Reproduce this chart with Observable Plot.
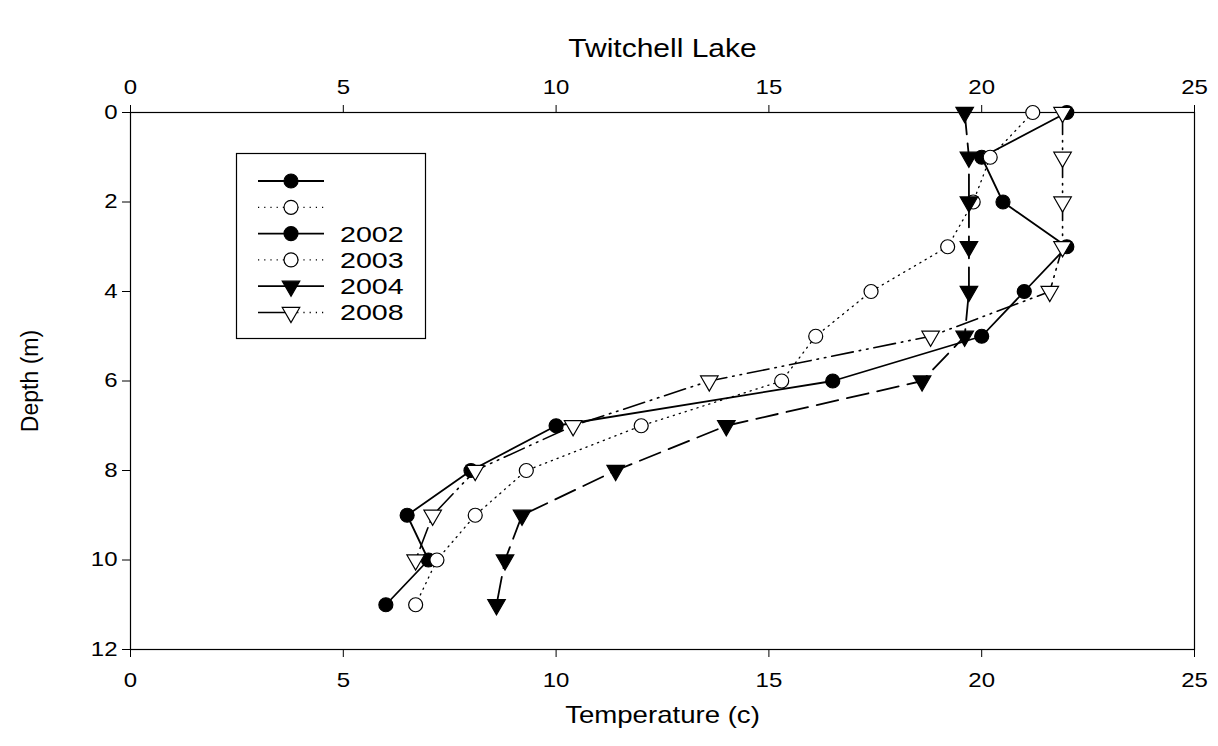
<!DOCTYPE html>
<html><head><meta charset="utf-8">
<script src="https://cdn.jsdelivr.net/npm/d3@7"></script>
<script src="https://cdn.jsdelivr.net/npm/@observablehq/plot@0.6"></script>
<style>
body{margin:0;background:#fff}
#chart{position:relative;width:1218px;height:746px}
</style>
</head><body><div id="chart"></div>
<script>
// ---- data ----
const depths = [0, 1, 2, 3, 4, 5, 6, 7, 8, 9, 10, 11];
const temp2002 = [22.0, 20.0, 20.5, 22.0, 21.0, 20.0, 16.5, 10.0, 8.0, 6.5, 7.0, 6.0];
const temp2003 = [21.2, 20.2, 19.8, 19.2, 17.4, 16.1, 15.3, 12.0, 9.3, 8.1, 7.2, 6.7];
const temp2004 = [19.6, 19.7, 19.7, 19.7, 19.7, 19.6, 18.6, 14.0, 11.4, 9.2, 8.8, 8.6];
const temp2008 = [21.9, 21.9, 21.9, 21.9, 21.6, 18.8, 13.6, 10.4, 8.1, 7.1, 6.7];
const seriesNames = ["2002", "2003", "2004", "2008"];
const legendLabels = ["", "", "2002", "2003", "2004", "2008"];
const xTicks = [0, 5, 10, 15, 20, 25];
const yTicks = [0, 2, 4, 6, 8, 10, 12];
const titleText = "Twitchell Lake";
const xLabel = "Temperature (c)";
const yLabel = "Depth (m)";

// ---- styles ----
const seriesTemps = {"2002": temp2002, "2003": temp2003, "2004": temp2004, "2008": temp2008};
const styles = {
  "2002": {dash: null, width: 1.8, symbol: "circle", fill: "black", r: 7, rotate: 0},
  "2003": {dash: "1.2,5", width: 1.3, symbol: "circle", fill: "white", r: 7, rotate: 0},
  "2004": {dash: "22,9", width: 1.8, symbol: "triangle", fill: "black", r: 6.5, rotate: 180},
  "2008": {dash: "22,6,1.5,6,1.5,6", width: 1.6, symbol: "triangle", fill: "white", r: 6.5, rotate: 180}
};
const legendStyleKeys = ["2002", "2003", "2002", "2003", "2004", "2008"];
const STRETCH = 1.2;

const font = "'Liberation Sans', Arial, sans-serif";

const rows = name => seriesTemps[name].map((t, i) => ({year: name, depth: depths[i], temp: t}));

const seriesMarks = seriesNames.flatMap(name => {
  const s = styles[name];
  const data = rows(name);
  return [
    Plot.line(data, {x: "temp", y: "depth", stroke: "black", strokeWidth: s.width,
      strokeDasharray: s.dash || undefined, curve: "linear"}),
    Plot.dot(data, {x: "temp", y: "depth", symbol: s.symbol, r: s.r, fill: s.fill,
      stroke: "black", strokeWidth: 1.2, rotate: s.rotate})
  ];
});

const chart = Plot.plot({
  width: 1218,
  height: 746,
  marginLeft: 130,
  marginRight: 24,
  marginTop: 112,
  marginBottom: 97,
  style: {fontFamily: font, fontSize: "20px", color: "black", background: "white", overflow: "visible"},
  x: {domain: [0, 25]},
  y: {domain: [0, 12], reverse: true},
  marks: [
    Plot.frame({stroke: "black", strokeWidth: 1.2}),
    Plot.axisX(xTicks, {anchor: "top", tickSize: 8, tickPadding: 11, label: null, fontSize: 20}),
    Plot.axisX(xTicks, {anchor: "bottom", tickSize: 8, tickPadding: 15, label: null, fontSize: 20}),
    Plot.axisY(yTicks, {anchor: "left", tickSize: 8, tickPadding: 5, label: null, fontSize: 20}),
    ...seriesMarks,
    Plot.text([titleText], {frameAnchor: "top", lineAnchor: "middle", dy: -64, fontSize: 25, fill: "black"}),
    Plot.text([xLabel], {frameAnchor: "bottom", lineAnchor: "middle", dy: 66, fontSize: 23, fill: "black"}),
    Plot.text([yLabel], {frameAnchor: "left", textAnchor: "middle", lineAnchor: "middle", dx: -100, rotate: -90, fontSize: 23, fill: "black"})
  ]
});
document.getElementById("chart").appendChild(chart);

// horizontal stretch of horizontal text about its anchor point, as in the reference rendering
d3.select(chart).selectAll("text").each(function () {
  const tr = this.getAttribute("transform") || "";
  if (/rotate\(\s*-?9/.test(tr)) return;
  const bb = this.getBBox();
  const anchor = getComputedStyle(this).textAnchor;
  const ax = anchor === "end" ? bb.x + bb.width : anchor === "middle" ? bb.x + bb.width / 2 : bb.x;
  this.setAttribute("transform", `${tr} translate(${ax},0) scale(${STRETCH},1) translate(${-ax},0)`);
});

// ---- legend ----
const svg = d3.select(chart);
const lg = svg.append("g").attr("font-family", font);
lg.append("rect").attr("x", 236.5).attr("y", 153.5).attr("width", 189).attr("height", 185)
  .attr("fill", "white").attr("stroke", "black").attr("stroke-width", 1.2);
const symMap = {circle: d3.symbolCircle, triangle: d3.symbolTriangle};
legendStyleKeys.forEach((key, i) => {
  const s = styles[key];
  const y = 181 + i * 26.3;
  const x0 = 258, x1 = 324, xm = 291;
  const leftDash = (key === "2003") ? s.dash : null;
  const rightDash = (key === "2003" || key === "2008") ? "1.2,5" : null;
  lg.append("line").attr("x1", x0).attr("x2", xm).attr("y1", y).attr("y2", y)
    .attr("stroke", "black").attr("stroke-width", leftDash ? 1.3 : s.width)
    .attr("stroke-dasharray", leftDash);
  lg.append("line").attr("x1", xm).attr("x2", x1).attr("y1", y).attr("y2", y)
    .attr("stroke", "black").attr("stroke-width", rightDash ? 1.3 : s.width)
    .attr("stroke-dasharray", rightDash);
  lg.append("path")
    .attr("d", d3.symbol(symMap[s.symbol], s.r * s.r * Math.PI)())
    .attr("transform", `translate(${xm},${y}) rotate(${s.rotate})`)
    .attr("fill", s.fill).attr("stroke", "black").attr("stroke-width", 1.2);
  if (legendLabels[i]) {
    lg.append("text")
      .attr("transform", `translate(340,${y}) scale(1.3,1)`)
      .attr("dy", "0.36em").attr("text-anchor", "start")
      .attr("font-size", 22).attr("fill", "black").text(legendLabels[i]);
  }
});
</script>
</body></html>
